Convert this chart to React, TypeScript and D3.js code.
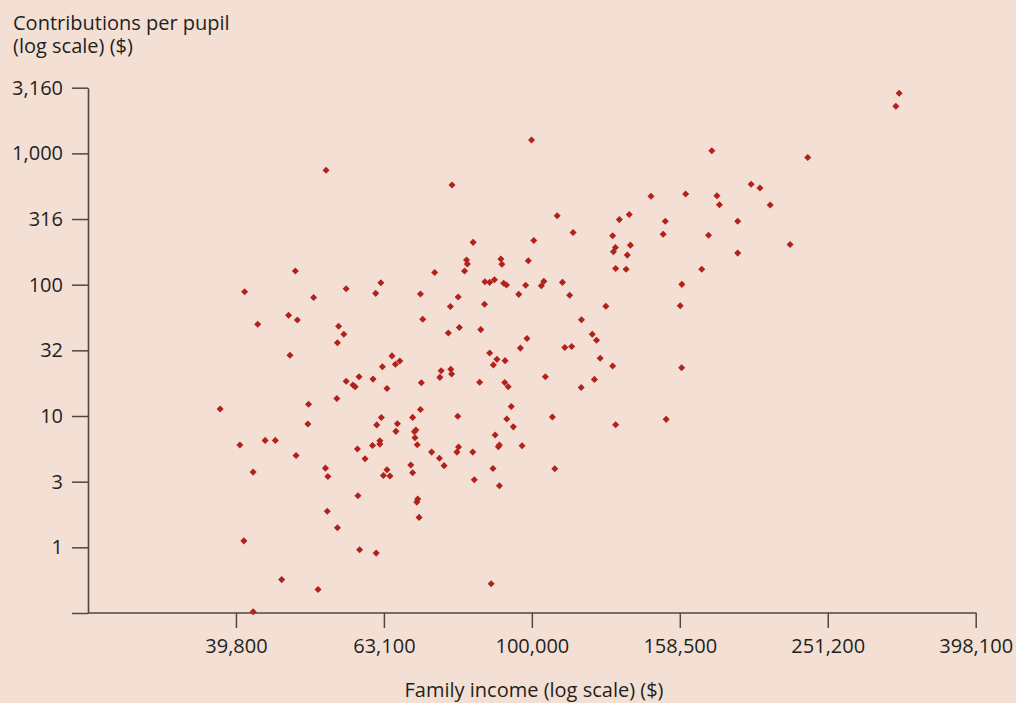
import React, { useEffect, useRef } from 'react';
import * as d3 from 'd3';

// family income ($) and contributions per pupil ($), one entry per school district
const familyIncome = [
  37900, 40300, 42000, 40800, 43600, 45000, 42600, 46900, 48200, 47100,
  49900, 49800, 48000, 52600, 53000, 52900, 54600, 45900, 51400, 42000,
  54800, 55700, 54600, 54500, 50700, 52700, 47900, 40900, 56100, 62500,
  61500, 64700, 65400, 66300, 62800, 56100, 58400, 61000, 57300, 57700,
  63700, 62600, 61700, 65800, 65500, 62300, 62300, 60900, 58100, 59500,
  63700, 63000, 64300, 58200, 58500, 61600, 99900, 78000, 108200, 113700,
  83300, 100600, 81600, 81800, 81100, 90800, 91100, 98900, 73900, 86400,
  87700, 89000, 91600, 92400, 98100, 96000, 103000, 103800, 110000, 112500,
  70700, 79500, 77600, 86300, 71200, 79800, 77100, 85300, 116700, 120700,
  122300, 98500, 96500, 110800, 113200, 87700, 89700, 88700, 92000, 75400,
  77700, 77900, 75100, 104300, 121500, 123700, 70900, 85000, 91900, 92900,
  116600, 70700, 69000, 79400, 93800, 92500, 94400, 106600, 69400, 69700,
  69500, 70000, 73200, 75000, 76100, 79200, 79600, 83200, 89200, 90100,
  90400, 97000, 68600, 69000, 88600, 107400, 83600, 90400, 70100, 69900,
  70400, 88100, 313700, 310500, 175100, 236000, 197900, 203400, 210000, 144900,
  161400, 177900, 179300, 135400, 131300, 151500, 189800, 128600, 150500, 173300,
  223400, 135900, 129700, 128900, 134600, 189800, 129800, 134100, 169700, 159500,
  158700, 125900, 128600, 159400, 151900, 129800,
];

const contributionPerPupil = [
  11.3, 6.01, 3.74, 1.12, 6.52, 6.52, 49.9, 58.5, 53.8, 29.0,
  12.3, 8.68, 5.01, 4.01, 3.46, 1.88, 1.41, 0.568, 0.477, 0.323,
  48.3, 41.9, 36.1, 13.6, 79.8, 743, 127, 88.4, 93.0, 103.5,
  85.9, 28.7, 24.8, 26.2, 23.7, 18.4, 19.9, 19.1, 17.2, 16.7,
  16.2, 9.73, 8.56, 8.73, 7.64, 6.48, 6.11, 5.96, 5.6, 4.72,
  3.9, 3.52, 3.49, 2.47, 0.958, 0.904, 1264, 574, 335, 250,
  210, 217, 154, 144, 127, 157, 143, 152, 124, 105.3,
  104.2, 109.1, 102.4, 99.4, 98.9, 84.4, 98.2, 106.0, 104.2, 83.0,
  84.9, 80.5, 68.2, 70.9, 54.5, 47.2, 42.8, 45.5, 54.0, 41.9,
  37.8, 38.9, 32.9, 33.2, 33.8, 30.2, 27.0, 24.5, 26.4, 22.1,
  22.7, 20.9, 19.7, 19.9, 19.0, 27.5, 17.9, 18.1, 18.0, 16.7,
  16.5, 11.2, 9.76, 9.96, 11.8, 9.48, 8.27, 9.82, 7.59, 7.82,
  6.83, 6.04, 5.31, 4.77, 4.19, 5.31, 5.8, 5.31, 7.16, 5.83,
  6.01, 5.93, 4.23, 3.7, 3.99, 3.97, 3.27, 2.94, 2.33, 2.21,
  1.69, 0.528, 2866, 2282, 1048, 930, 581, 545, 404, 471,
  490, 475, 406, 342, 313, 304, 304, 236, 242, 238,
  202, 200, 192, 178, 168, 174, 133, 131, 131, 100.6,
  69.1, 68.5, 24.0, 23.3, 9.43, 8.58,
];

const xTickValues = [39811, 63096, 100000, 158489, 251189, 398107];
const xTickLabels = ['39,800', '63,100', '100,000', '158,500', '251,200', '398,100'];
const yTickValues = [3162.3, 1000, 316.23, 100, 31.623, 10, 3.1623, 1, 0.31623];
const yTickLabels = ['3,160', '1,000', '316', '100', '32', '10', '3', '1', ''];

const width = 1016;
const height = 703;
const font = "'Open Sans', sans-serif";
const ink = '#231f20';
const axisColor = '#4f4646';

export default function App() {
  const ref = useRef<SVGSVGElement>(null);

  useEffect(() => {
    const svg = d3.select(ref.current);
    svg.selectAll('*').remove();

    svg.append('rect').attr('width', width).attr('height', height).attr('fill', '#f4dfd5');

    const x = d3.scaleLog().domain([Math.pow(10, 4.4), Math.pow(10, 5.6)]).range([88, 975.7]);
    const y = d3.scaleLog().domain([Math.pow(10, 3.5), Math.pow(10, -0.5)]).range([87.7, 613]);

    const yAxis = svg.append('g')
      .attr('transform', 'translate(88,0)')
      .call(
        d3.axisLeft(y)
          .tickValues(yTickValues)
          .tickFormat((d, i) => yTickLabels[i])
          .tickSize(16)
          .tickSizeOuter(0)
          .tickPadding(9)
      );

    const xAxis = svg.append('g')
      .attr('transform', 'translate(0,613)')
      .call(
        d3.axisBottom(x)
          .tickValues(xTickValues)
          .tickFormat((d, i) => xTickLabels[i])
          .tickSize(15)
          .tickSizeOuter(0)
          .tickPadding(11)
      );

    [yAxis, xAxis].forEach(g => {
      g.select('.domain').attr('stroke', axisColor).attr('stroke-width', 1.6);
      g.selectAll('.tick line').attr('stroke', axisColor).attr('stroke-width', 1.5);
      g.selectAll('.tick text')
        .attr('fill', ink)
        .style('font-family', font)
        .style('font-size', '20px');
    });
    xAxis.select('.domain').attr('d', 'M88,0H976.5');

    const diamond = d3.symbol().type(d3.symbolSquare).size(25);
    svg.append('g')
      .selectAll('path')
      .data(familyIncome.map((inc, i) => ({ inc, c: contributionPerPupil[i] })))
      .enter()
      .append('path')
      .attr('d', diamond)
      .attr('transform', d => `translate(${x(d.inc)},${y(d.c)}) rotate(45)`)
      .attr('fill', '#b3211b');

    const title = svg.append('text')
      .attr('x', 13)
      .attr('fill', ink)
      .style('font-family', font)
      .style('font-size', '20px');
    title.append('tspan').attr('x', 13).attr('y', 30).text('Contributions per pupil');
    title.append('tspan').attr('x', 13).attr('y', 53).text('(log scale) ($)');

    svg.append('text')
      .attr('x', 534)
      .attr('y', 697)
      .attr('text-anchor', 'middle')
      .attr('fill', ink)
      .style('font-family', font)
      .style('font-size', '20px')
      .text('Family income (log scale) ($)');
  }, []);

  return (
    <svg
      ref={ref}
      width={width}
      height={height}
      style={{ position: 'absolute', left: 0, top: 0, display: 'block' }}
    />
  );
}
